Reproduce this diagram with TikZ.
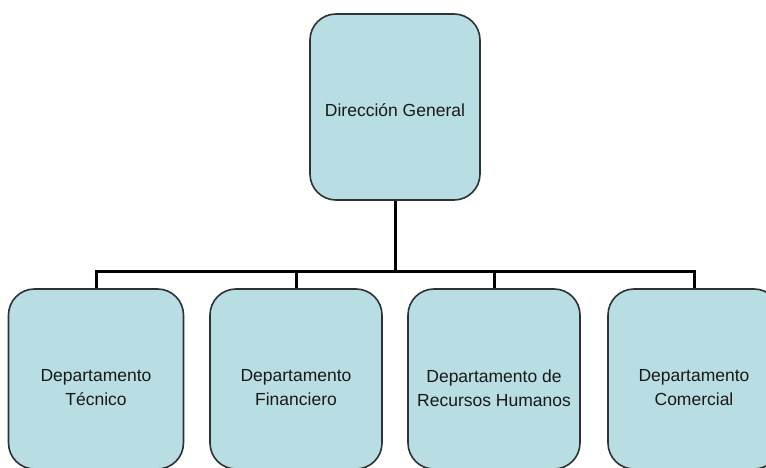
\documentclass[tikz,border=0pt]{standalone}
\usepackage{fontspec}
\setmainfont{Liberation Sans}
\definecolor{boxfill}{RGB}{184,222,228}
\definecolor{boxline}{RGB}{45,50,50}
\begin{document}
\begin{tikzpicture}[x=1pt,y=-1pt,
  orgbox/.style={draw=boxline, line width=1.6pt, fill=boxfill, rounded corners=26pt,
    inner sep=0pt},
  boxtext/.style={align=center, font=\fontsize{17.5}{24}\selectfont, text=black!90},
  conn/.style={draw=black, line width=3pt}]
\useasboundingbox (0,0) rectangle (766,468);
\clip (0,0) rectangle (766,468);
\fill[white] (0,0) rectangle (766,468);
\node[orgbox, minimum width=170pt, minimum height=186pt,
  label={[boxtext, yshift=-3pt]center:Dirección General}] (top) at (395,107) {};
\node[orgbox, minimum width=175pt, minimum height=180pt,
  label={[boxtext, yshift=-9pt]center:Departamento\\Técnico}] (b1) at (96,379) {};
\node[orgbox, minimum width=172pt, minimum height=180pt,
  label={[boxtext, yshift=-9pt]center:Departamento\\Financiero}] (b2) at (296,379) {};
\node[orgbox, minimum width=172pt, minimum height=180pt,
  label={[boxtext, yshift=-9pt]center:Departamento de\\Recursos Humanos}] (b3) at (494,379) {};
\node[orgbox, minimum width=172pt, minimum height=180pt,
  label={[boxtext, yshift=-9pt]center:Departamento\\Comercial}] (b4) at (694,379) {};
\coordinate (j) at (395,271);
\draw[conn] (top.south) -- (j);
\draw[conn] (b1.north) |- (j) -| (b4.north);
\draw[conn] (b2.north) -- (b2.north |- j);
\draw[conn] (b3.north) -- (b3.north |- j);
\end{tikzpicture}
\end{document}
